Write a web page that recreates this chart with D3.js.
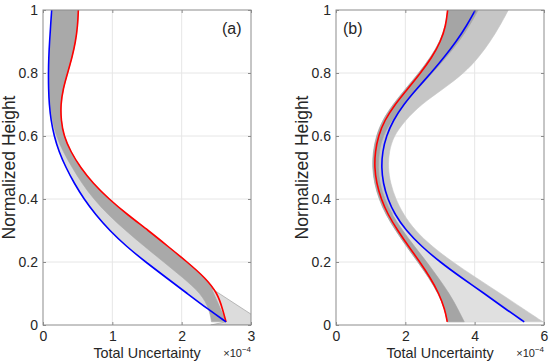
<!DOCTYPE html>
<html>
<head>
<meta charset="utf-8">
<script src="https://cdn.jsdelivr.net/npm/d3@7"></script>
<style>
  body { margin: 0; background: #fff; }
  text { font-family: Arial, "Liberation Sans", sans-serif; fill: #262626; }
</style>
</head>
<body>
<svg id="chart" width="550" height="364"></svg>
<script>
// normalized heights shared by every series below
var heights = [0.01, 0.05, 0.1, 0.15, 0.2, 0.25, 0.3, 0.35, 0.4, 0.45, 0.5,
  0.55, 0.6, 0.65, 0.7, 0.75, 0.8, 0.85, 0.9, 0.95, 1];

// panel (a), total uncertainty in units of 1e-4
var blueA = [2.64, 2.38, 2.08, 1.78, 1.48, 1.20, 0.96, 0.76, 0.59, 0.45, 0.33,
  0.23, 0.16, 0.115, 0.09, 0.08, 0.078, 0.083, 0.095, 0.11, 0.125];
var redA = [2.64, 2.59, 2.52, 2.34, 2.08, 1.80, 1.52, 1.22, 0.95, 0.72, 0.54,
  0.40, 0.30, 0.26, 0.255, 0.29, 0.355, 0.42, 0.47, 0.50, 0.51];
var darkEdgeA = [2.43, 2.40, 2.28, 2.02, 1.74, 1.46, 1.19, 0.94, 0.73, 0.56, 0.42,
  0.29, 0.19, 0.13, 0.10, 0.092, 0.09, 0.095, 0.105, 0.12, 0.135];
var fanA = [[2.43, 0.116], [3.1, 0.02], [3.1, 0.0], [2.42, 0.0], [2.64, 0.01]];

// panel (b)
var blueB = [5.43, 4.90, 4.28, 3.62, 3.00, 2.46, 2.02, 1.70, 1.49, 1.36, 1.31,
  1.34, 1.45, 1.65, 1.95, 2.33, 2.74, 3.12, 3.47, 3.77, 4.02];
var redB = [3.21, 3.14, 2.97, 2.72, 2.42, 2.09, 1.78, 1.50, 1.30, 1.17, 1.11,
  1.13, 1.22, 1.40, 1.70, 2.07, 2.44, 2.77, 3.02, 3.17, 3.22];
var bandLeftB = [3.21, 3.14, 2.95, 2.68, 2.36, 2.03, 1.72, 1.44, 1.24, 1.11, 1.05,
  1.07, 1.16, 1.34, 1.64, 2.01, 2.39, 2.73, 3.00, 3.16, 3.22];
var bandRightB = [5.97, 5.42, 4.74, 4.04, 3.36, 2.76, 2.28, 1.95, 1.72, 1.57, 1.50,
  1.53, 1.66, 2.00, 2.45, 3.10, 3.70, 4.12, 4.45, 4.73, 4.97];
var darkEdgeB = [3.70, 3.52, 3.27, 2.95, 2.62, 2.26, 1.92, 1.62, 1.40, 1.26, 1.21,
  1.24, 1.35, 1.60, 1.95, 2.36, 2.78, 3.18, 3.55, 3.85, 4.10];

var yTicks = [0, 0.2, 0.4, 0.6, 0.8, 1];
var xTicksA = [0, 1, 2, 3];
var xTicksB = [0, 2, 4, 6];

var svg = d3.select('#chart');

function drawPanel(cfg) {
  var x = d3.scaleLinear().domain(cfg.xDomain).range([cfg.left, cfg.right]);
  var y = d3.scaleLinear().domain([0, 1]).range([325, 10]);
  var g = svg.append('g');

  g.append('clipPath').attr('id', cfg.id + '-clip')
    .append('rect')
    .attr('x', cfg.left).attr('y', 10)
    .attr('width', cfg.right - cfg.left).attr('height', 315);

  // grid
  g.append('g').selectAll('line')
    .data(cfg.xTicks.slice(1, -1))
    .enter().append('line')
    .attr('x1', function (d) { return x(d); })
    .attr('x2', function (d) { return x(d); })
    .attr('y1', y(0)).attr('y2', y(1))
    .attr('stroke', '#e6e6e6').attr('stroke-width', 1);
  g.append('g').selectAll('line')
    .data(yTicks.slice(1, -1))
    .enter().append('line')
    .attr('y1', function (d) { return y(d); })
    .attr('y2', function (d) { return y(d); })
    .attr('x1', cfg.left).attr('x2', cfg.right)
    .attr('stroke', '#e6e6e6').attr('stroke-width', 1);

  var plot = g.append('g').attr('clip-path', 'url(#' + cfg.id + '-clip)');

  function band(lo, hi, from, to) {
    var pts = heights.map(function (h, i) { return {h: h, lo: lo[i], hi: hi[i]}; })
      .slice(from || 0, to || heights.length);
    return d3.area()
      .y(function (d) { return y(d.h); })
      .x0(function (d) { return x(d.lo); })
      .x1(function (d) { return x(d.hi); })
      .curve(d3.curveBasis)(pts);
  }

  cfg.fills.forEach(function (f) {
    plot.append('path')
      .attr('d', band(f.lo, f.hi, f.from, f.to))
      .attr('fill', f.color).attr('stroke', f.color).attr('stroke-width', 0.6);
  });

  if (cfg.fan) {
    plot.append('path')
      .attr('d', d3.line()
        .x(function (d) { return x(d[0]); })
        .y(function (d) { return y(d[1]); })(cfg.fan) + 'Z')
      .attr('fill', '#dcdcdc').attr('stroke', '#a8a8a8').attr('stroke-width', 0.8);
  }

  var line = d3.line()
    .y(function (d) { return y(d[1]); })
    .x(function (d) { return x(d[0]); })
    .curve(d3.curveBasis);

  [[cfg.red, '#ff0000'], [cfg.blue, '#0000ff']].forEach(function (s) {
    plot.append('path')
      .attr('d', line(s[0].map(function (v, i) { return [v, heights[i]]; })))
      .attr('fill', 'none').attr('stroke', s[1]).attr('stroke-width', 1.6);
  });

  // box and ticks
  g.append('rect')
    .attr('x', cfg.left).attr('y', 10)
    .attr('width', cfg.right - cfg.left).attr('height', 315)
    .attr('fill', 'none').attr('stroke', '#8c8c8c').attr('stroke-width', 1);

  var axB = g.append('g').attr('transform', 'translate(0,' + y(0) + ')')
    .call(d3.axisBottom(x).tickValues(cfg.xTicks).tickSize(-3).tickPadding(6)
      .tickFormat(d3.format('d')));
  var axL = g.append('g').attr('transform', 'translate(' + cfg.left + ',0)')
    .call(d3.axisLeft(y).tickValues(yTicks).tickSize(-3).tickPadding(5)
      .tickFormat(function (d) { return d === 0 || d === 1 ? d : d3.format('.1f')(d); }));
  var axT = g.append('g').attr('transform', 'translate(0,' + y(1) + ')')
    .call(d3.axisTop(x).tickValues(cfg.xTicks).tickSize(-3).tickFormat(''));
  var axR = g.append('g').attr('transform', 'translate(' + cfg.right + ',0)')
    .call(d3.axisRight(y).tickValues(yTicks).tickSize(-3).tickFormat(''));
  [axB, axL, axT, axR].forEach(function (a) {
    a.select('.domain').remove();
    a.selectAll('line').attr('stroke', '#8c8c8c');
    a.selectAll('text').attr('font-size', 14).attr('fill', '#262626')
      .style('font-family', 'Arial, "Liberation Sans", sans-serif');
  });

  g.append('text')
    .attr('x', (cfg.left + cfg.right) / 2).attr('y', 358)
    .attr('text-anchor', 'middle').attr('font-size', 14.4)
    .text('Total Uncertainty');

  var exp = g.append('text')
    .attr('x', cfg.right).attr('y', 357)
    .attr('text-anchor', 'end').attr('font-size', 11);
  exp.append('tspan').text('\u00d710');
  exp.append('tspan').attr('dy', -5).attr('font-size', 8).text('\u22124');

  g.append('text')
    .attr('transform', 'translate(' + (cfg.left - 28) + ',' + y(0.5) + ') rotate(-90)')
    .attr('text-anchor', 'middle').attr('font-size', 17.5)
    .text('Normalized Height');

  g.append('text')
    .attr('x', cfg.labelX).attr('y', 34)
    .attr('font-size', 16)
    .text(cfg.label);
}

drawPanel({
  id: 'pa', left: 43, right: 251, xDomain: [0, 3], xTicks: xTicksA,
  red: redA, blue: blueA, label: '(a)', labelX: 222,
  fan: fanA,
  fills: [
    {lo: blueA, hi: redA, color: '#d9d9d9'},
    {lo: darkEdgeA, hi: redA, color: '#a9a9a9'}
  ]
});

drawPanel({
  id: 'pb', left: 336, right: 544, xDomain: [0, 6], xTicks: xTicksB,
  red: redB, blue: blueB, label: '(b)', labelX: 343,
  fills: [
    {lo: bandLeftB, hi: bandRightB, color: '#c6c6c6'},
    {lo: darkEdgeB, hi: blueB, color: '#e0e0e0', from: 0, to: 8},
    {lo: bandLeftB, hi: darkEdgeB, color: '#a5a5a5'}
  ]
});
</script>
</body>
</html>
